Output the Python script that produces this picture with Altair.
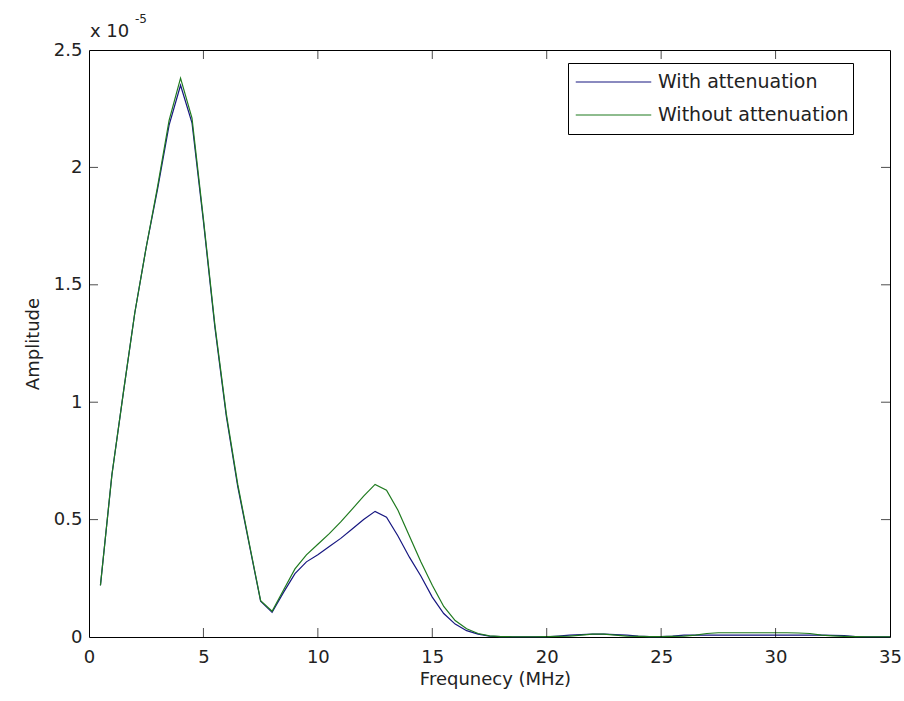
import altair as alt
import pandas as pd

# Frequency grid (MHz)
freq = [0.5, 1.0, 1.5, 2.0, 2.5, 3.0, 3.5, 4.0, 4.5, 5.0,
        5.5, 6.0, 6.5, 7.0, 7.5, 8.0, 8.5, 9.0, 9.5, 10.0,
        10.5, 11.0, 11.5, 12.0, 12.5, 13.0, 13.5, 14.0, 14.5, 15.0,
        15.5, 16.0, 16.5, 17.0, 17.5, 18.0, 18.5, 19.0, 19.5, 20.0,
        20.5, 21.0, 21.5, 22.0, 22.5, 23.0, 23.5, 24.0, 24.5, 25.0,
        25.5, 26.0, 26.5, 27.0, 27.5, 28.0, 28.5, 29.0, 29.5, 30.0,
        30.5, 31.0, 31.5, 32.0, 32.5, 33.0, 33.5, 34.0, 34.5, 35.0]

# Amplitudes in units of 1e-5
amp_with = [0.22, 0.69, 1.04, 1.38, 1.66, 1.91, 2.18, 2.35, 2.19, 1.77,
            1.32, 0.94, 0.64, 0.395, 0.152, 0.105, 0.19, 0.27, 0.32, 0.35,
            0.385, 0.42, 0.46, 0.50, 0.535, 0.51, 0.43, 0.34, 0.26, 0.17,
            0.10, 0.055, 0.027, 0.012, 0.004, 0.002, 0.001, 0.001, 0.001, 0.001,
            0.004, 0.008, 0.010, 0.012, 0.012, 0.010, 0.008, 0.004, 0.002, 0.002,
            0.004, 0.008, 0.008, 0.008, 0.008, 0.008, 0.008, 0.008, 0.008, 0.008,
            0.008, 0.008, 0.008, 0.008, 0.007, 0.006, 0.002, 0.001, 0.001, 0.001]

amp_without = [0.22, 0.69, 1.04, 1.38, 1.66, 1.92, 2.20, 2.38, 2.21, 1.78,
               1.33, 0.95, 0.65, 0.40, 0.155, 0.11, 0.20, 0.29, 0.35, 0.395,
               0.44, 0.49, 0.545, 0.60, 0.65, 0.625, 0.54, 0.43, 0.32, 0.22,
               0.13, 0.07, 0.035, 0.015, 0.005, 0.002, 0.001, 0.001, 0.001, 0.002,
               0.003, 0.004, 0.008, 0.012, 0.012, 0.008, 0.004, 0.003, 0.002, 0.002,
               0.003, 0.004, 0.008, 0.015, 0.018, 0.018, 0.018, 0.018, 0.018, 0.018,
               0.018, 0.017, 0.015, 0.008, 0.005, 0.003, 0.002, 0.001, 0.001, 0.001]

series_names = ["With attenuation", "Without attenuation"]
series_colors = ["#161680", "#1f7a1f"]

x_ticks = [0, 5, 10, 15, 20, 25, 30, 35]
y_ticks = [0, 0.5, 1, 1.5, 2, 2.5]
x_inner_ticks = [5, 10, 15, 20, 25, 30]
y_inner_ticks = [0.5, 1, 1.5, 2]

W, H = 801, 587
FONT = "DejaVu Sans"

df = pd.concat([
    pd.DataFrame({"f": freq, "a": amp_with, "s": series_names[0]}),
    pd.DataFrame({"f": freq, "a": amp_without, "s": series_names[1]}),
], ignore_index=True)

xscale = alt.Scale(domain=[0, 35], nice=False, zero=False)
yscale = alt.Scale(domain=[0, 2.5], nice=False, zero=False)

lines = alt.Chart(df).mark_line(strokeWidth=1.2).encode(
    x=alt.X("f:Q", scale=xscale,
            axis=alt.Axis(values=x_ticks, title="Frequnecy (MHz)", format="~g",
                          domain=False, ticks=False, tickSize=0, grid=False,
                          labelPadding=11, titlePadding=4, labelFlush=False,
                          titleX=406)),
    y=alt.Y("a:Q", scale=yscale,
            axis=alt.Axis(values=y_ticks, title="Amplitude", format="~g",
                          domain=False, ticks=False, tickSize=0, grid=False,
                          labelPadding=7, titlePadding=11)),
    color=alt.Color("s:N", scale=alt.Scale(domain=series_names, range=series_colors),
                    legend=alt.Legend(title=None, orient="none", legendX=479, legendY=13,
                                      strokeColor="black", fillColor="white", padding=4,
                                      symbolType="stroke", symbolSize=5700,
                                      symbolStrokeWidth=1.2, symbolOffset=3,
                                      labelFontSize=19, labelFont=FONT, labelColor="#222",
                                      labelOffset=6, clipHeight=30, rowPadding=3,
                                      cornerRadius=0, labelLimit=400)),
    order=alt.Order("f:Q"),
)

xt = pd.DataFrame({"v": x_inner_ticks})
yt = pd.DataFrame({"v": y_inner_ticks})
tick_bottom = alt.Chart(xt).mark_tick(color="black", size=9, thickness=1, orient="vertical").encode(
    x=alt.X("v:Q", scale=xscale), y=alt.value(H - 4.5))
tick_top = alt.Chart(xt).mark_tick(color="black", size=9, thickness=1, orient="vertical").encode(
    x=alt.X("v:Q", scale=xscale), y=alt.value(4.5))
tick_left = alt.Chart(yt).mark_tick(color="black", size=9, thickness=1, orient="horizontal").encode(
    y=alt.Y("v:Q", scale=yscale), x=alt.value(4.5))
tick_right = alt.Chart(yt).mark_tick(color="black", size=9, thickness=1, orient="horizontal").encode(
    y=alt.Y("v:Q", scale=yscale), x=alt.value(W - 4.5))

exp_base = alt.Chart(pd.DataFrame({"t": ["x 10"]})).mark_text(
    align="left", baseline="middle", font=FONT, fontSize=18, color="#222").encode(
    x=alt.value(1), y=alt.value(-18), text="t:N")
exp_pow = alt.Chart(pd.DataFrame({"t": ["-5"]})).mark_text(
    align="left", baseline="middle", font=FONT, fontSize=12, color="#222").encode(
    x=alt.value(46), y=alt.value(-31), text="t:N")

chart = alt.layer(lines, tick_bottom, tick_top, tick_left, tick_right, exp_base, exp_pow).properties(
    width=W, height=H,
    autosize=alt.AutoSizeParams(type="none"),
    padding={"left": 89, "top": 50, "right": 14, "bottom": 64},
    background="white",
).configure_view(stroke="black", strokeWidth=1).configure_axis(
    labelFont=FONT, labelFontSize=18, labelColor="#222",
    titleFont=FONT, titleFontSize=18, titleFontWeight="normal", titleColor="#222",
)

chart.save("out.html", embed_options={"renderer": "svg", "actions": False})
